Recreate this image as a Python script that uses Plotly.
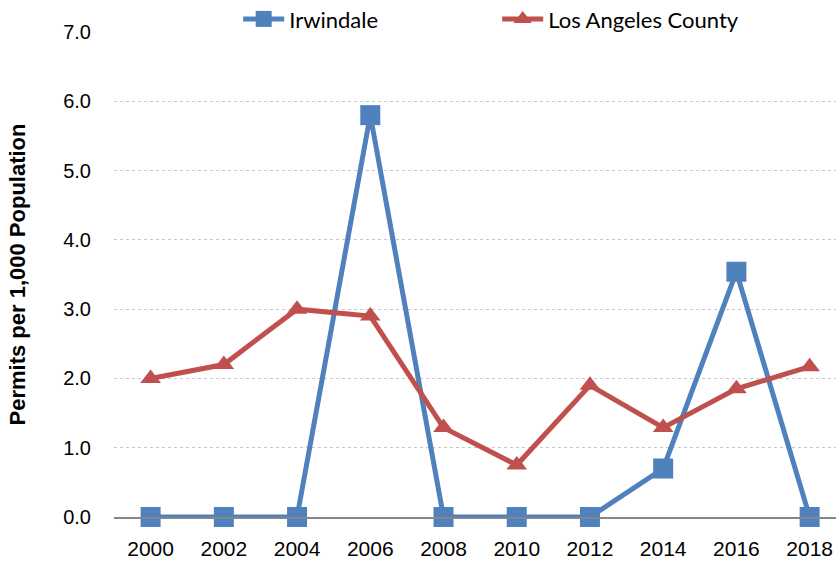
import plotly.graph_objects as go

years = ["2000", "2002", "2004", "2006", "2008", "2010", "2012", "2014", "2016", "2018"]
irwindale = [0, 0, 0, 5.8, 0, 0, 0, 0.7, 3.54, 0]
la_county = [2.0, 2.2, 3.0, 2.9, 1.29, 0.75, 1.9, 1.29, 1.85, 2.17]

BLUE = "#4F81BD"
RED = "#C0504D"

fig = go.Figure()
fig.add_trace(go.Scatter(
    x=years, y=irwindale, name="Irwindale", mode="lines+markers",
    line=dict(color=BLUE, width=5),
    marker=dict(symbol="square", size=20, color=BLUE),
    cliponaxis=False,
))
fig.add_trace(go.Scatter(
    x=years, y=la_county, name="Los Angeles County", mode="lines+markers",
    line=dict(color=RED, width=5),
    marker=dict(symbol="triangle-up", size=18, color=RED),
    cliponaxis=False,
))

fig.update_layout(
    width=836, height=562,
    margin=dict(l=114, r=0, t=32, b=45, autoexpand=False),
    plot_bgcolor="white", paper_bgcolor="white",
    font=dict(family="Liberation Sans, Arial", color="#000000"),
    showlegend=True,
    legend=dict(
        orientation="h", x=0.172, xanchor="left",
        y=0.966, yanchor="middle", yref="container",
        font=dict(family="Lato, Open Sans", size=22, color="#000"),
        itemwidth=41, entrywidth=203, entrywidthmode="pixels",
        bgcolor="rgba(0,0,0,0)",
    ),
    xaxis=dict(
        type="category", range=[-0.5, 9.36],
        showgrid=False, showline=True, linecolor="#868686", linewidth=1.5,
        ticks="", ticklabelstandoff=12, ticklabeloverflow="allow",
        tickfont=dict(size=21),
        zeroline=False,
    ),
    yaxis=dict(
        range=[0, 7], dtick=1, tickformat=".1f",
        showgrid=True, gridcolor="#c8c8c8", griddash="dot", gridwidth=1,
        zeroline=False, showline=False, ticks="", ticklabelstandoff=22,
        tickfont=dict(size=20),
        title=dict(text="<b>Permits per 1,000 Population</b>", font=dict(size=22), standoff=31),
    ),
)

# drop the page's default body margin so the figure fills the window exactly
fig.write_html(
    "out.html",
    config={"displayModeBar": False},
    post_script="document.body.style.margin='0';document.body.style.overflow='hidden';",
)
